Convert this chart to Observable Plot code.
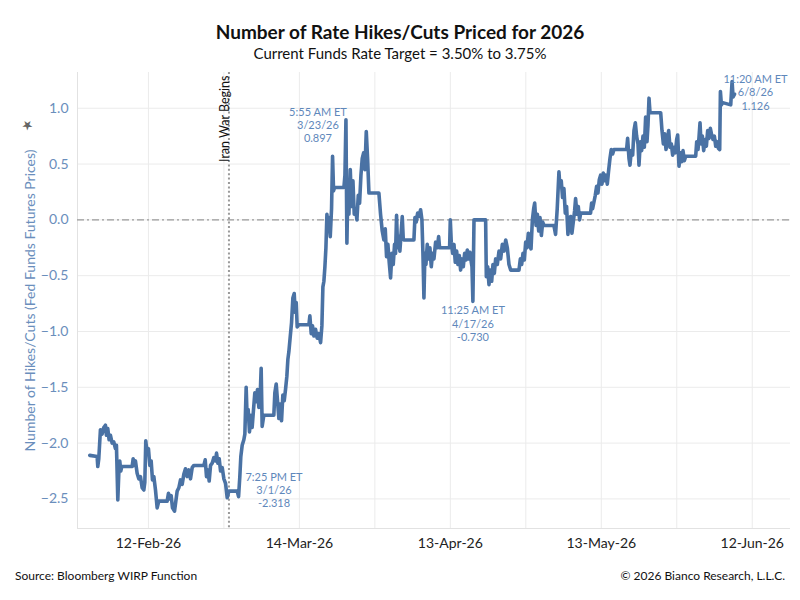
<!DOCTYPE html>
<html>
<head>
<meta charset="utf-8">
<script src="https://cdn.jsdelivr.net/npm/d3@7"></script>
<script src="https://cdn.jsdelivr.net/npm/@observablehq/plot@0.6"></script>
<style>
  body { margin: 0; background: #fff; font-family: Lato, "Open Sans", sans-serif; }
  #wrap { position: relative; width: 800px; height: 600px; overflow: hidden; }
  .title { position: absolute; top: 20px; left: 0; width: 800px; text-align: center;
           font-weight: 700; font-size: 19px; line-height: 24px; color: #111; }
  .subtitle { position: absolute; top: 44px; left: 0; width: 800px; text-align: center;
              font-size: 15px; line-height: 18px; color: #111; }
  #chart { position: absolute; top: 62px; left: 0; }
  .foot { position: absolute; top: 569px; font-size: 12px; line-height: 14px; color: #111; }
  .pin { position: absolute; left: 21px; top: 116px; font-size: 13px; color: #666;
         transform: rotate(-35deg); }
</style>
</head>
<body>
<div id="wrap">
  <div class="title">Number of Rate Hikes/Cuts Priced for 2026</div>
  <div class="subtitle">Current Funds Rate Target = 3.50% to 3.75%</div>
  <div id="chart"></div>
  <div class="pin">★</div>
  <div class="foot" style="left:15px">Source: Bloomberg WIRP Function</div>
  <div class="foot" style="right:15px">© 2026 Bianco Research, L.L.C.</div>
</div>
<script>
// days since 1 Jan 2026 (fractional) and rate hikes/cuts priced
const days = [
  30.34, 31.80, 31.93, 32.13, 32.46, 32.79, 33.12, 33.45, 33.65, 33.92, 34.18, 34.45, 34.78, 35.11,
  35.44, 35.64, 35.91, 36.10, 36.30, 36.50, 36.70, 38.76, 38.96, 39.15, 39.42, 39.75, 40.08, 40.41,
  40.75, 41.08, 41.28, 41.47, 41.74, 42.00, 42.27, 42.54, 42.80, 43.07, 43.40, 43.73, 44.06, 45.72,
  45.98, 46.25, 46.51, 46.78, 47.18, 47.44, 47.71, 48.04, 48.37, 48.70, 49.03, 49.36, 49.70, 50.03,
  50.36, 50.69, 51.02, 53.01, 53.28, 53.54, 53.81, 54.07, 54.34, 54.67, 55.00, 55.33, 55.53, 55.80,
  56.06, 56.33, 56.66, 56.99, 57.32, 57.65, 57.98, 59.64, 59.91,
  60.16, 60.36, 60.63, 60.96, 61.16, 61.42, 61.62, 61.82, 62.08, 62.35, 62.61, 62.88, 63.14, 63.41,
  63.67, 63.94, 64.20, 64.40, 64.60, 64.93, 66.92, 67.12, 67.39, 67.65, 67.92, 68.18, 68.45, 68.71,
  68.98, 69.24, 69.51, 69.71, 69.91, 70.17, 70.44, 70.70, 70.97, 71.17, 71.37, 71.56, 71.90, 73.89,
  74.08, 74.35, 74.61, 74.88, 75.21, 75.54, 75.87, 76.21, 76.47, 76.67, 76.87, 77.07, 77.27, 77.47,
  77.66, 77.86, 78.13, 78.39, 78.59, 78.79, 78.99, 80.85, 81.05, 81.25, 81.44, 81.64, 81.84, 82.11,
  82.37, 82.64, 82.90, 83.17, 83.43, 83.70, 83.96, 84.23, 84.49, 84.76, 85.02, 85.29, 85.55, 85.82,
  87.80, 88.13, 88.46, 88.79, 89.06, 89.32, 89.59, 89.85, 90.12, 90.38, 90.65, 90.91, 91.11, 91.31,
  91.51, 91.78, 91.97, 92.24, 92.44, 92.64, 92.77, 94.76, 94.96, 95.22, 95.49, 95.75, 96.09, 96.35,
  96.55, 96.75, 96.95, 97.15, 97.41, 97.68, 97.94, 98.21, 98.47, 98.74, 99.07, 99.40, 99.67, 99.86,
  101.85, 101.99, 102.18, 102.45, 102.72, 102.98, 103.25, 103.51, 103.78, 104.04, 104.31, 104.57,
  104.84, 105.10, 105.37, 105.63, 105.90, 106.16, 106.30, 106.48, 106.70, 109.01, 109.15, 109.41,
  109.68, 109.94, 110.21, 110.47, 110.74, 111.00, 111.33, 111.67, 112.00, 112.33, 112.66, 113.00,
  113.32, 113.65, 113.99, 115.64, 115.91, 116.17, 116.44, 116.70, 116.97, 117.23, 117.50, 117.77,
  118.03, 118.30, 118.56, 118.76, 119.03, 119.29, 119.56, 119.82, 120.09, 120.35, 120.62, 122.58,
  122.91, 123.24, 123.58, 123.77, 124.04, 124.30, 124.57, 124.84, 125.10, 125.37, 125.63, 125.90,
  126.16, 126.43, 126.69, 126.89, 127.16, 127.42, 127.69, 127.89, 129.87, 130.07, 130.27, 130.54,
  130.80, 131.07, 131.33, 131.60, 131.86, 132.13, 132.39, 132.66, 132.92, 133.19, 133.45, 133.72,
  133.98, 134.25, 134.52, 137.03, 137.23, 137.50, 137.70, 137.96, 138.23, 138.49, 138.76, 139.02,
  139.29, 139.49, 139.75, 140.02, 140.28, 140.55, 140.81, 141.08, 141.28, 141.48, 141.68, 143.80,
  144.06, 144.33, 144.59, 144.86, 145.12, 145.39, 145.65, 145.92, 146.18, 146.45, 146.71, 146.98,
  147.18, 147.44, 147.71, 147.97, 148.24, 148.50, 148.77, 150.76, 150.96, 151.22, 151.42, 151.62,
  151.82, 152.08, 152.35, 152.61, 152.88, 153.14, 153.41, 153.67, 153.94, 154.20, 154.47, 154.74,
  155.00, 155.27, 155.53, 155.67, 155.87, 156.13, 157.72, 157.99, 158.19, 158.47
];
const values = [
  -2.11, -2.12, -2.21, -2.14, -1.88, -1.92, -1.86, -1.84, -1.93, -1.87, -1.97, -1.93, -2.00, -1.99,
  -2.05, -2.02, -2.51, -2.28, -2.16, -2.25, -2.21, -2.21, -2.14, -2.20, -2.16, -2.27, -2.32, -2.30,
  -2.40, -2.42, -2.35, -1.98, -2.10, -2.05, -2.20, -2.16, -2.33, -2.30, -2.42, -2.58, -2.52, -2.52,
  -2.45, -2.50, -2.47, -2.58, -2.61, -2.52, -2.43, -2.40, -2.33, -2.37, -2.28, -2.23, -2.30, -2.24,
  -2.32, -2.22, -2.20, -2.20, -2.15, -2.30, -2.24, -2.34, -2.20, -2.18, -2.13, -2.16, -2.09, -2.18,
  -2.14, -2.25, -2.22, -2.32, -2.36, -2.49, -2.43, -2.43, -2.48,
  -2.30, -2.12, -2.02, -1.97, -1.92, -1.50, -1.78, -1.70, -1.90, -1.75, -1.86, -1.70, -1.55, -1.63,
  -1.52, -1.68, -1.58, -1.33, -1.85, -1.75, -1.75, -1.55, -1.47, -1.62, -1.78, -1.65, -1.80, -1.57,
  -1.62, -1.52, -1.40, -1.25, -1.18, -1.05, -0.92, -0.70, -0.66, -0.83, -0.74, -0.96, -0.94, -0.94,
  -0.86, -1.02, -0.95, -1.04, -0.98, -1.06, -1.02, -1.10, -0.95, -0.60, -0.55, -0.42, -0.25, 0.05,
  -0.10, 0.02, -0.15, 0.10, 0.57, 0.26, 0.29, 0.29, 0.40, 0.897, -0.21, 0.30, 0.05, 0.45,
  0.12, 0.35, 0.05, 0.10, 0.00, 0.22, 0.15, 0.40, 0.55, 0.60, 0.45, 0.79, 0.55, 0.24,
  0.24, 0.05, -0.10, -0.18, -0.08, -0.33, -0.22, -0.38, -0.52, -0.30, -0.40, -0.22, -0.30, 0.04,
  -0.25, -0.15, -0.28, -0.10, 0.03, -0.17, -0.18, -0.18, 0.02, -0.02, 0.06, 0.03, 0.09, 0.00,
  -0.30, -0.70, -0.30, -0.40, -0.22, -0.35, -0.25, -0.42, -0.30, -0.35, -0.20, -0.25, -0.15, -0.25,
  -0.25, 0.00, -0.20, -0.30, -0.22, -0.38, -0.28, -0.40, -0.32, -0.45, -0.35, -0.42,
  -0.30, -0.36, -0.27, -0.35, -0.29, -0.38, -0.42, -0.730, 0.00, 0.00, -0.51, -0.42,
  -0.58, -0.45, -0.55, -0.40, -0.48, -0.35, -0.40, -0.28, -0.35, -0.22, -0.28, -0.18,
  -0.25, -0.40, -0.45, -0.45, -0.35, -0.40, -0.30, -0.36, -0.20, -0.25, -0.12, -0.22,
  -0.26, 0.00, 0.10, 0.15, -0.05, 0.05, -0.10, 0.02, -0.14, -0.02, -0.05, -0.05,
  -0.13, 0.10, 0.43, 0.30, 0.35, 0.20, 0.28, 0.06, 0.12, -0.13, 0.00, 0.03,
  -0.12, -0.02, 0.08, 0.19, 0.05, 0.12, 0.00, 0.06, 0.06, 0.15, 0.10, 0.16,
  0.22, 0.30, 0.24, 0.36, 0.40, 0.32, 0.42, 0.35, 0.40, 0.32, 0.44, 0.55,
  0.63, 0.59, 0.63, 0.63, 0.73, 0.55, 0.49, 0.62, 0.58, 0.80, 0.87, 0.75,
  0.68, 0.49, 0.70, 0.62, 0.75, 0.65, 0.92, 0.70, 0.85, 1.09, 0.96, 0.96,
  0.80, 0.68, 0.77, 0.63, 0.72, 0.80, 0.65, 0.68, 0.58, 0.65, 0.60, 0.72,
  0.76, 0.48, 0.60, 0.52, 0.62, 0.53, 0.57, 0.57, 0.70, 0.63, 0.74, 0.87,
  0.68, 0.75, 0.62, 0.72, 0.66, 0.80, 0.73, 0.82, 0.76, 0.72, 0.75, 0.66,
  0.70, 0.64, 0.63, 1.15, 1.03, 1.05, 1.03, 1.24, 1.10, 1.126
];

// annotated points
const noteDays = [59.80, 81.25, 106.48, 158.47];
const noteValues = [-2.318, 0.897, -0.730, 1.126];
const noteLabels = [
  "7:25 PM ET\n3/1/26\n-2.318",
  "5:55 AM ET\n3/23/26\n0.897",
  "11:25 AM ET\n4/17/26\n-0.730",
  "11:20 AM ET\n6/8/26\n1.126"
];

const eventDays = [58.0];
const eventLabels = ["Iran War Begins"];

// axis ticks and extents
const gridDays = [42, 57, 72, 87, 102, 117, 132, 147, 162];
const labelDays = [42, 72, 102, 132, 162];
const yTicks = [-2.5, -2.0, -1.5, -1.0, -0.5, 0.0, 0.5, 1.0];
const xDomainDays = [27.9, 169.6];
const yDomain = [-2.765, 1.32];

const toDate = d => new Date(Date.UTC(2026, 0, 1) + d * 864e5);

const series = days.map((d, i) => ({date: toDate(d), value: values[i]}));
const notes = noteDays.map((d, i) => ({date: toDate(d), value: noteValues[i], label: noteLabels[i]}));
const events = eventDays.map((d, i) => ({date: toDate(d), label: eventLabels[i]}));
const xDomain = xDomainDays.map(toDate);

// label offsets [dx, dy] for each note
const noteOffsets = [[36, 11], [-28, 5], [0, 22], [21, -2]];
const noteMark = i => Plot.text([notes[i]], {
  x: "date", y: "value", text: "label",
  dx: noteOffsets[i][0], dy: noteOffsets[i][1],
  fill: "#5f88bb", fontSize: 11, lineHeight: 1.2, textAnchor: "middle"
});

const chart = Plot.plot({
  width: 800,
  height: 510,
  marginTop: 10,
  marginBottom: 44,
  marginLeft: 77,
  marginRight: 10,
  style: {fontFamily: "Lato, 'Open Sans', sans-serif", background: "transparent"},
  x: {type: "utc", domain: xDomain},
  y: {domain: yDomain},
  marks: [
    Plot.gridX(gridDays.map(toDate), {stroke: "#ebebeb", strokeOpacity: 1}),
    Plot.gridY(yTicks, {stroke: "#ebebeb", strokeOpacity: 1}),
    Plot.ruleX([xDomain[0]], {stroke: "#e2e2e2"}),
    Plot.ruleY([yDomain[0]], {stroke: "#e2e2e2"}),
    Plot.ruleY([0], {stroke: "#9a9a9a", strokeWidth: 1.4, strokeDasharray: "7,3,2,3"}),
    Plot.ruleX(events, {x: "date", stroke: "#9a9a9a", strokeWidth: 2, strokeDasharray: "2,2.4"}),
    Plot.text(events, {
      x: "date", text: "label", frameAnchor: "top", rotate: -90, textAnchor: "end",
      dx: -9, dy: 3, fontSize: 12.5, fill: "#111"
    }),
    Plot.lineY(series, {
      x: "date", y: "value", stroke: "#4a72a4", strokeWidth: 3.6,
      strokeLinejoin: "round", strokeLinecap: "round"
    }),
    ...noteDays.map((d, i) => noteMark(i)),
    Plot.axisX({
      ticks: labelDays.map(toDate), tickFormat: d3.utcFormat("%d-%b-%y"),
      tickSize: 0, tickPadding: 10, fontSize: 14, color: "#222", label: null
    }),
    Plot.axisY({
      ticks: yTicks, tickFormat: ".1f", tickSize: 0, tickPadding: 9, fontSize: 14,
      color: "#6a8ebc", label: "Number of Hikes/Cuts (Fed Funds Futures Prices)",
      labelAnchor: "center", labelOffset: 52, labelArrow: "none"
    })
  ]
});

document.getElementById("chart").append(chart);
</script>
</body>
</html>
